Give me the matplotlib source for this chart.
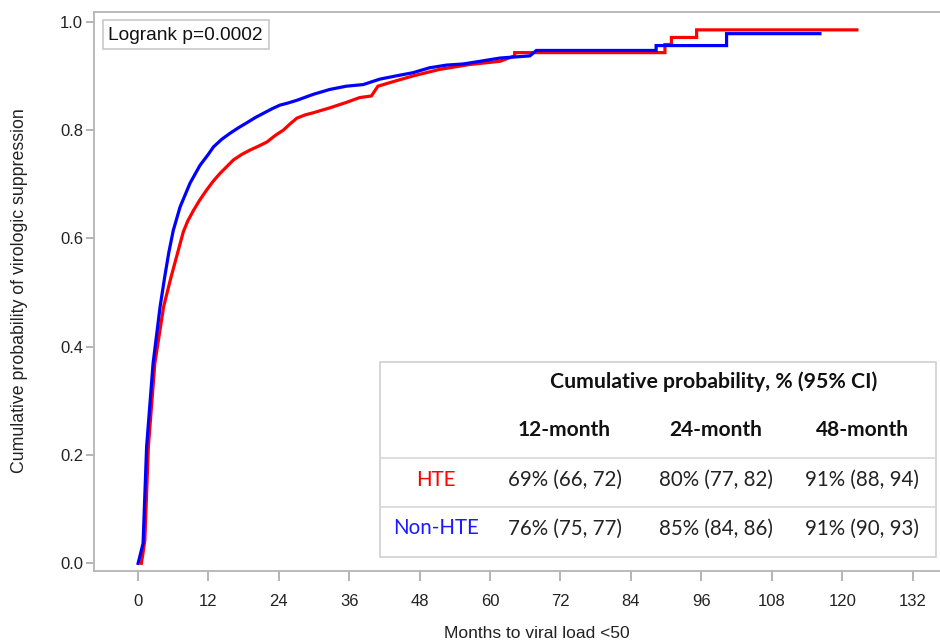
import matplotlib
matplotlib.use("Agg")
import matplotlib.pyplot as plt
from matplotlib.patches import Rectangle
from matplotlib.lines import Line2D

# (months, cumulative probability)
hte_months = [0.6, 0.9, 1.2, 1.8, 2.9, 4.4, 5.0, 5.7, 6.9, 7.75, 8.5, 9.5, 10.5, 11.7, 12.8,
              14.0, 15.2, 16.3, 17.7, 19.1, 20.5, 22.0, 23.4, 24.8, 26.0, 27.1, 28.5,
              29.9, 32.7, 35.5, 37.8, 39.8, 40.9, 44.0, 46.9, 51.4, 56.5, 61.7, 64.2,
              64.2, 89.8, 89.8, 90.9, 90.9, 95.2, 95.2, 122.5]
hte_prob = [0.0, 0.02, 0.043, 0.215, 0.369, 0.474, 0.50, 0.53, 0.578, 0.612, 0.632, 0.652,
            0.67, 0.689, 0.705, 0.72, 0.733, 0.745, 0.755, 0.763, 0.77, 0.778, 0.79, 0.80,
            0.812, 0.822, 0.828, 0.832, 0.841, 0.851, 0.860, 0.863, 0.881, 0.891, 0.90,
            0.912, 0.921, 0.927, 0.937, 0.943, 0.943, 0.958, 0.958, 0.971, 0.971, 0.985,
            0.985]

nonhte_months = [0.05, 0.9, 1.5, 2.6, 3.8, 4.6, 5.3, 6.05, 7.2, 8.9, 10.6, 12.0, 12.9, 14.3,
                 15.7, 17.1, 18.5, 20.0, 21.4, 22.8, 24.2, 25.6, 27.1, 29.9, 32.7, 35.5,
                 38.4, 41.2, 44.0, 46.9, 49.7, 52.6, 55.4, 58.3, 61.7, 66.8, 67.9, 88.3,
                 88.3, 100.3, 100.3, 116.2]
nonhte_prob = [0.0, 0.037, 0.215, 0.369, 0.474, 0.53, 0.575, 0.615, 0.658, 0.702, 0.735,
               0.755, 0.769, 0.783, 0.794, 0.804, 0.813, 0.823, 0.831, 0.839, 0.846, 0.85,
               0.855, 0.866, 0.875, 0.881, 0.884, 0.894, 0.90, 0.906, 0.915, 0.920, 0.922,
               0.927, 0.933, 0.937, 0.947, 0.947, 0.956, 0.956, 0.978, 0.978]

x_ticks = list(range(0, 133, 12))
y_ticks = [0.0, 0.2, 0.4, 0.6, 0.8, 1.0]

groups = ["HTE", "Non-HTE"]
group_colors = ["#ff0000", "#1a1aff"]
time_points = ["12-month", "24-month", "48-month"]
table_rows = [["69% (66, 72)", "80% (77, 82)", "91% (88, 94)"],
              ["76% (75, 77)", "85% (84, 86)", "91% (90, 93)"]]

W, H = 940, 644

def fx(px):
    return px / W

def fy(py):
    return 1 - py / H

fig = plt.figure(figsize=(9.4, 6.44), dpi=100)
ax = fig.add_axes([fx(94.3), fy(570.7), 1 - fx(94.3), fy(12) - fy(570.7)])

ax.plot(hte_months, hte_prob, color="#ff0000", lw=2.3, solid_joinstyle="miter")
ax.plot(nonhte_months, nonhte_prob, color="#0000ff", lw=2.3, solid_joinstyle="miter")

ax.set_xlim(-7.41, 136.66)
ax.set_ylim(-0.0135, 1.018)
ax.set_xticks(x_ticks)
ax.set_yticks(y_ticks)
ax.set_yticklabels([f"{v:.1f}" for v in y_ticks])

for side in ["left", "bottom", "top"]:
    ax.spines[side].set_color("#b4b4b4")
    ax.spines[side].set_linewidth(1.3)
ax.spines["right"].set_visible(False)
ax.tick_params(axis="x", length=7.5, width=1.1, color="#a0a0a0", pad=9,
               labelsize=12, labelcolor="#222222")
ax.tick_params(axis="y", length=6, width=1.1, color="#a0a0a0", pad=2,
               labelsize=12, labelcolor="#222222")
for lab in ax.get_xticklabels() + ax.get_yticklabels():
    lab.set_family("Liberation Sans")

fig.text(fx(20), fy(291), "Cumulative probability of virologic suppression", rotation=90,
         ha="center", va="center", fontsize=12.8, family="Liberation Sans", color="#222222")
fig.text(fx(537), fy(634), "Months to viral load <50", ha="center", va="center",
         fontsize=12.5, family="Liberation Sans", color="#222222")

# logrank box
fig.patches.append(Rectangle((fx(102.7), fy(49.3)), fx(269.3) - fx(102.7), fy(20) - fy(49.3),
                             transform=fig.transFigure, facecolor="white",
                             edgecolor="#c8c8c8", lw=1.2))
fig.text(fx(108.5), fy(35.5), "Logrank p=0.0002", ha="left", va="center", fontsize=13.8,
         family="Liberation Sans", color="#111111")

# summary table
tl, tr, tt, tb = 380, 936, 362, 556.5
fig.patches.append(Rectangle((fx(tl), fy(tb)), fx(tr) - fx(tl), fy(tt) - fy(tb),
                             transform=fig.transFigure, facecolor="white",
                             edgecolor="#d0d0d0", lw=1.2))
for yl in [458, 506.5]:
    fig.add_artist(Line2D([fx(tl), fx(tr)], [fy(yl), fy(yl)], transform=fig.transFigure,
                          color="#d8d8d8", lw=1.2))

col_x = [564.5, 716, 862]
fig.text(fx(714), fy(381.5), "Cumulative probability, % (95% CI)", ha="center", va="center",
         fontsize=15.3, fontweight="bold", family="Lato", color="#111111")
for cx, tp in zip(col_x, time_points):
    fig.text(fx(cx), fy(430), tp, ha="center", va="center", fontsize=15,
             fontweight="bold", family="Lato", color="#111111")
for ry, g, c, vals in zip([480, 528.5], groups, group_colors, table_rows):
    fig.text(fx(436), fy(ry), g, ha="center", va="center", fontsize=14.8,
             family="Lato", color=c)
    for cx, v in zip(col_x, vals):
        fig.text(fx(cx), fy(ry), v, ha="center", va="center", fontsize=14.8,
                 family="Lato", color="#222222")

fig.savefig("out.png", dpi=100)
